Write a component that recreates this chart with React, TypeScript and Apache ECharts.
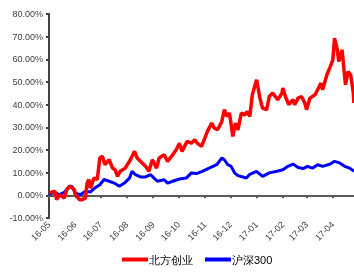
import React, { useEffect, useRef } from "react";
import * as echarts from "echarts";

const startDate = "2016-05-01";
const endDate = "2017-04-26";
const monthStarts = ["2016-05-01", "2016-06-01", "2016-07-01", "2016-08-01", "2016-09-01", "2016-10-01", "2016-11-01", "2016-12-01", "2017-01-01", "2017-02-01", "2017-03-01", "2017-04-01"];
const monthLabels = ["16-05", "16-06", "16-07", "16-08", "16-09", "16-10", "16-11", "16-12", "17-01", "17-02", "17-03", "17-04"];
const yTicks = [-10, 0, 10, 20, 30, 40, 50, 60, 70, 80];

// day offsets from startDate
const redDays = [0, 4, 7, 9, 13, 18, 21, 25, 30, 31, 36, 39, 43, 45, 47, 49, 53, 57, 60, 63, 66, 71, 75, 78, 81, 84, 90, 96, 101, 104, 110, 114, 118, 122, 127, 130, 136, 140, 146, 150, 154, 157, 163, 168, 172, 175, 180, 184, 187, 192, 195, 199, 204, 207, 210, 213, 217, 220, 223, 227, 231, 234, 237, 240, 245, 249, 252, 257, 260, 264, 270, 275, 276, 279, 283, 288, 290, 294, 298, 302, 304, 308, 314, 317, 321, 323, 328, 332, 335, 337, 340, 342, 346, 348, 350, 353, 356, 359, 360];
const redPct = [1, 1.5, 1.8, -1.9, 0.3, -1.2, 2.5, 4, 2.5, 0.3, -1.9, -1.9, -1.2, 5.4, 7, 3.2, 7.6, 7, 16.5, 17.2, 13.5, 15.7, 12, 11.3, 8.4, 10.6, 12, 15.7, 19.4, 16.5, 14.3, 12.8, 10.6, 15.7, 12, 16.5, 17.9, 15, 17.9, 20, 23, 19.4, 23.8, 23, 24.5, 23, 21.6, 25.3, 28.2, 31.9, 29.7, 28.9, 32.6, 37.8, 34.8, 36.3, 26, 31.9, 28.9, 36.3, 35.5, 37, 34.8, 44.4, 51, 42.9, 38.5, 37.8, 43.6, 45.1, 42.2, 45.1, 47.3, 43.6, 40, 42.2, 40, 42.9, 43.6, 40.7, 37.8, 42.9, 44.4, 46.6, 49.5, 46.6, 53.2, 56.8, 59.8, 69.3, 64.9, 59, 64.2, 56.1, 48.8, 54.6, 53.2, 45.8, 40.7];

const blueDays = [0, 6, 12, 18, 24, 27, 31, 37, 43, 49, 54, 60, 65, 71, 77, 83, 89, 95, 98, 102, 108, 114, 120, 124, 128, 136, 140, 146, 154, 162, 168, 174, 181, 189, 198, 204, 207, 211, 215, 219, 223, 229, 233, 237, 245, 252, 260, 269, 276, 282, 288, 294, 300, 305, 311, 317, 323, 332, 337, 343, 349, 355, 360];
const bluePct = [0.3, 1.3, 0.3, 1.3, 4, 4, 1, 0.3, 1.8, 1.5, 3.2, 4.7, 7, 6.2, 5.4, 4, 5.4, 7.6, 10.6, 9.1, 8.1, 8.1, 9.1, 7.6, 6.2, 6.9, 5.4, 6.2, 7.2, 7.6, 9.9, 9.6, 10.6, 12, 13.5, 16.5, 15.7, 13.5, 12.8, 9.9, 8.7, 8.1, 7.6, 9.3, 10.6, 8.4, 9.9, 10.6, 11.3, 12.8, 13.8, 12.3, 11.8, 12.8, 12, 13.5, 12.8, 13.8, 15, 14.3, 12.8, 12, 10.6];

const DAY = 86400000;
const t0 = Date.UTC(+startDate.slice(0, 4), +startDate.slice(5, 7) - 1, +startDate.slice(8, 10));
const dayOf = (s: string) => Math.round((Date.UTC(+s.slice(0, 4), +s.slice(5, 7) - 1, +s.slice(8, 10)) - t0) / DAY);
const monthDays = monthStarts.map(dayOf);
const maxDay = dayOf(endDate);
const toPairs = (days: number[], vals: number[]) => days.map((d, i) => [d, vals[i]]);

export default function App() {
  const ref = useRef<HTMLDivElement>(null);
  useEffect(() => {
    if (!ref.current) return;
    const chart = echarts.init(ref.current, undefined, { renderer: "svg" });
    const font = "Liberation Sans, Arial, sans-serif";
    chart.setOption({
      animation: false,
      grid: { left: 49, right: 0, top: 14, bottom: 54, containLabel: false },
      legend: {
        left: 117,
        top: 249,
        itemWidth: 26,
        itemHeight: 4,
        itemGap: 12,
        icon: "rect",
        textStyle: { fontFamily: font, fontSize: 11, color: "#000", padding: [0, 0, 0, -4] },
        data: [
          { name: "北方创业", itemStyle: { color: "#FF0000" } },
          { name: "沪深300", itemStyle: { color: "#0000FF" } },
        ],
      },
      xAxis: {
        type: "value",
        min: 0,
        max: maxDay,
        axisLine: { lineStyle: { color: "#595959", width: 2 } },
        axisTick: { show: true, length: 3, customValues: monthDays, lineStyle: { color: "#595959", width: 2 } },
        axisLabel: {
          customValues: monthDays,
          rotate: 45,
          fontFamily: font,
          fontSize: 9,
          color: "#404040",
          margin: 5,
          formatter: (v: number) => {
            const i = monthDays.indexOf(Math.round(v));
            return i >= 0 ? monthLabels[i] : "";
          },
        },
        splitLine: { show: false },
      },
      yAxis: {
        type: "value",
        min: yTicks[0],
        max: yTicks[yTicks.length - 1],
        interval: 10,
        axisLine: { show: true, lineStyle: { color: "#404040", width: 2 } },
        axisTick: { show: true, length: 3, lineStyle: { color: "#404040", width: 2 } },
        axisLabel: {
          fontFamily: font,
          fontSize: 9,
          color: "#404040",
          margin: 6,
          formatter: (v: number) => v.toFixed(2) + "%",
        },
        splitLine: { show: false },
      },
      series: [
        {
          name: "北方创业",
          type: "line",
          data: toPairs(redDays, redPct),
          showSymbol: false,
          symbol: "none",
          lineStyle: { color: "#FF0000", width: 3.5 },
          itemStyle: { color: "#FF0000" },
          z: 3,
        },
        {
          name: "沪深300",
          type: "line",
          data: toPairs(blueDays, bluePct),
          showSymbol: false,
          symbol: "none",
          lineStyle: { color: "#0000FF", width: 3 },
          itemStyle: { color: "#0000FF" },
          z: 2,
        },
      ],
    });
    return () => chart.dispose();
  }, []);
  return <div ref={ref} style={{ position: "fixed", left: 0, top: 0, width: 354, height: 272 }} />;
}
